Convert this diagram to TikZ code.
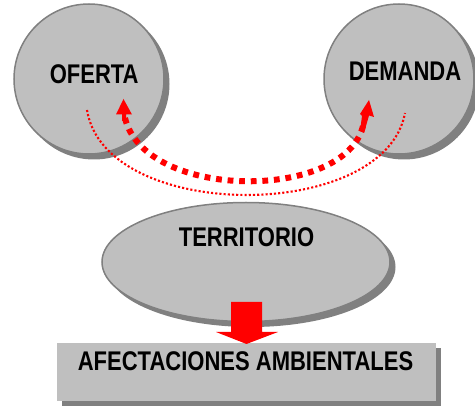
\documentclass[tikz,border=0pt]{standalone}
\usepackage{fontspec}
\setmainfont[FakeStretch=0.815]{Liberation Sans}
\definecolor{bodygray}{HTML}{BFBFBF}
\definecolor{edgegray}{HTML}{808080}
\definecolor{arrowred}{HTML}{FF0000}
\begin{document}
\begin{tikzpicture}[x=1pt,y=-1pt,
  shadowshape/.style={fill=edgegray,draw=none},
  bodyshape/.style={fill=bodygray,draw=edgegray,line width=1.5pt},
  labeltext/.style={inner sep=0pt,font=\fontsize{27}{31}\selectfont\bfseries,text=black},
  thickflow/.style={draw=arrowred,line width=6pt,dash pattern=on 5.8pt off 5.8pt},
  thinflow/.style={draw=arrowred,line width=2.1pt,dash pattern=on 2.1pt off 2.1pt},
  tiphead/.style={fill=arrowred,draw=none}]
\useasboundingbox (0,0) rectangle (475,406);
% shadows
\begin{scope}
\clip (0,0) rectangle (475,406);
\fill[shadowshape] (94,84) circle[radius=75.5];
\fill[shadowshape] (404,84) circle[radius=75.5];
\fill[shadowshape] (251,267) ellipse[x radius=144.5,y radius=60];
\fill[shadowshape] (62,348) rectangle (441,406);
% bodies
\draw[bodyshape] (89,79) circle[radius=75];
\draw[bodyshape] (399,79) circle[radius=75];
\draw[bodyshape] (246,262) ellipse[x radius=144,y radius=59.5];
\fill[bodygray] (57,343) rectangle (436,401);
\end{scope}
% block arrow
\fill[arrowred] (231,302) -- (262,302) -- (262,332) -- (278,332) -- (246.5,344) -- (216,332) -- (231,332) -- cycle;
% labels
\node[labeltext] (oferta) at (94.2,74) {OFERTA};
\node[labeltext] (demanda) at (405,71) {DEMANDA};
\node[labeltext] (territorio) at (246.5,237) {TERRITORIO};
\node[labeltext] (afectaciones) at (245.5,361.5) {AFECTACIONES AMBIENTALES};
% flows
\coordinate (thickL) at (125,118);
\coordinate (thickR) at (363,126);
\coordinate (tipL) at (123.5,99);
\coordinate (tipR) at (369,100);
\coordinate (thinL) at (87,110);
\coordinate (thinR) at (405,113);
\draw[thinflow] (thinL) .. controls (105,222.8) and (385,222.8) .. (thinR);
\draw[thickflow] (thickL) .. controls (145,201) and (345,201) .. (thickR);
\fill[tiphead] (tipL) -- (132,114.5) -- (126,114.5) -- (126,121) -- (122,121) -- (122,114.5) -- (116,114.5) -- cycle;
\fill[tiphead] (tipR) -- (374,117) -- (369,115.5) -- (364,133) -- (360,131) -- (362,116) -- (360,114) -- cycle;
\end{tikzpicture}
\end{document}
